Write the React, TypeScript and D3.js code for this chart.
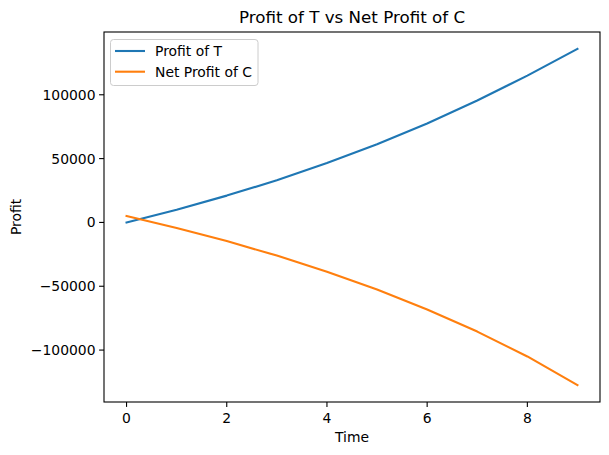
import React from "react";
import * as d3 from "d3";

const times = [0, 1, 2, 3, 4, 5, 6, 7, 8, 9];
const profitT = [0, 10000, 21000, 33000, 46500, 61200, 77500, 95500, 115000, 136000];
const netProfitC = [5000, -4300, -14600, -26000, -38600, -52600, -68200, -85500, -105000, -127500];
const xTicks = [0, 2, 4, 6, 8];
const yTicks = [-100000, -50000, 0, 50000, 100000];
const seriesNames = ["Profit of T", "Net Profit of C"];
const colors = ["#1f77b4", "#ff7f0e"];

const W = 609, H = 455;
const L = 104, R = 600, T = 32, B = 402;

export default function App() {
  const all = [...profitT, ...netProfitC];
  const ymin = d3.min(all)!, ymax = d3.max(all)!;
  const ypad = (ymax - ymin) * 0.05;
  const xpad = 9 * 0.05;
  const x = d3.scaleLinear().domain([0 - xpad, 9 + xpad]).range([L, R]);
  const y = d3.scaleLinear().domain([ymin - ypad, ymax + ypad]).range([B, T]);
  const line = d3.line<number>().x((_, i) => x(times[i])).y((d) => y(d));
  const font = "DejaVu Sans, sans-serif";
  const fmt = (v: number) => (v < 0 ? "\u2212" + Math.abs(v) : String(v));
  return (
    <svg width={W} height={H} style={{ position: "absolute", left: 0, top: 0, background: "#fff" }} fontFamily={font}>
      <rect x={0} y={0} width={W} height={H} fill="#fff" />
      <text x={(L + R) / 2} y={23} textAnchor="middle" fontSize={16.7} fill="#000">Profit of T vs Net Profit of C</text>
      <path d={line(profitT)!} fill="none" stroke={colors[0]} strokeWidth={2.1} strokeLinejoin="round" strokeLinecap="square" />
      <path d={line(netProfitC)!} fill="none" stroke={colors[1]} strokeWidth={2.1} strokeLinejoin="round" strokeLinecap="square" />
      <rect x={L} y={T} width={R - L} height={B - T} fill="none" stroke="#000" strokeWidth={1.1} />
      {xTicks.map((t) => (
        <g key={"x" + t}>
          <line x1={x(t)} x2={x(t)} y1={B} y2={B + 4.9} stroke="#000" strokeWidth={1.1} />
          <text x={x(t)} y={B + 21} textAnchor="middle" fontSize={13.9} fill="#000">{fmt(t)}</text>
        </g>
      ))}
      {yTicks.map((t) => (
        <g key={"y" + t}>
          <line x1={L - 4.9} x2={L} y1={y(t)} y2={y(t)} stroke="#000" strokeWidth={1.1} />
          <text x={L - 8.5} y={y(t) + 5} textAnchor="end" fontSize={13.9} fill="#000">{fmt(t)}</text>
        </g>
      ))}
      <text x={(L + R) / 2} y={442} textAnchor="middle" fontSize={13.9} fill="#000">Time</text>
      <text transform={`translate(21,${(T + B) / 2}) rotate(-90)`} textAnchor="middle" fontSize={13.9} fill="#000">Profit</text>
      <g>
        <rect x={110.5} y={39.5} width={147.5} height={46} rx={3} fill="#fff" fillOpacity={0.8} stroke="#cccccc" strokeWidth={1} />
        {seriesNames.map((n, i) => (
          <g key={n}>
            <line x1={115} x2={145} y1={51 + i * 20.7} y2={51 + i * 20.7} stroke={colors[i]} strokeWidth={2.1} />
            <text x={155} y={51 + i * 20.7 + 5} fontSize={13.9} fill="#000">{n}</text>
          </g>
        ))}
      </g>
    </svg>
  );
}
